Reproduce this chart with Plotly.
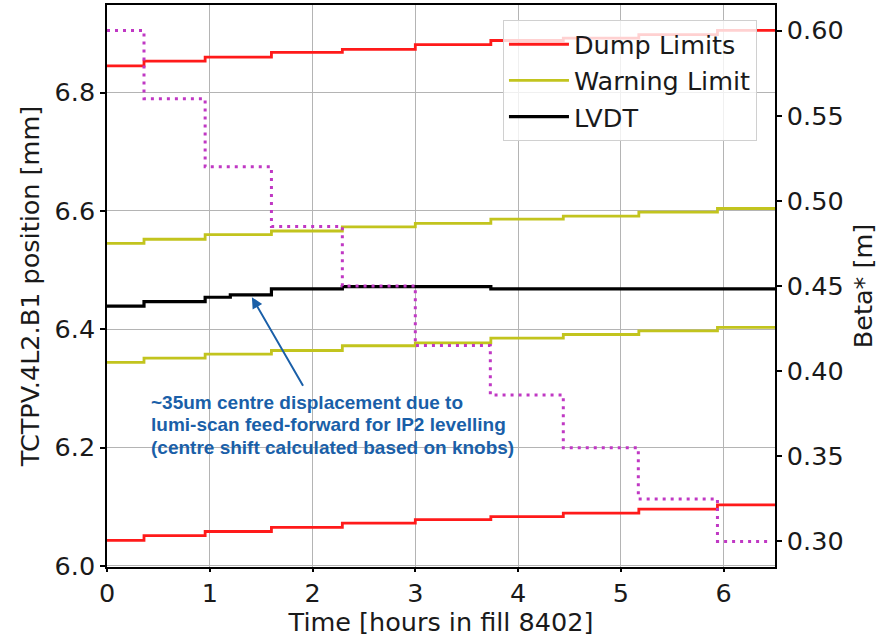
import plotly.graph_objects as go

# ---- data ----
step_hours = [0, 0.36, 0.955, 1.6, 2.29, 3.0, 3.735, 4.44, 5.175, 5.94, 6.5]
dump_upper = [6.845, 6.853, 6.860, 6.868, 6.873, 6.881, 6.888, 6.892, 6.898, 6.905, 6.905]
dump_lower = [6.043, 6.051, 6.058, 6.065, 6.072, 6.078, 6.083, 6.089, 6.096, 6.103, 6.103]
warn_upper = [6.545, 6.552, 6.560, 6.566, 6.573, 6.579, 6.586, 6.591, 6.598, 6.604, 6.604]
warn_lower = [6.344, 6.351, 6.358, 6.364, 6.372, 6.377, 6.385, 6.391, 6.397, 6.403, 6.403]

lvdt_hours = [0, 0.36, 0.955, 1.2, 1.6, 2.29, 3.735, 6.5]
lvdt_pos = [6.439, 6.4465, 6.454, 6.458, 6.468, 6.4718, 6.468, 6.468]

beta_hours = [0, 0.36, 0.955, 1.6, 2.29, 3.0, 3.73, 4.44, 5.17, 5.94, 6.46]
beta_star = [0.60, 0.56, 0.52, 0.485, 0.45, 0.415, 0.386, 0.355, 0.325, 0.30, 0.30]

x_ticks = [0, 1, 2, 3, 4, 5, 6]
y_ticks = [6.0, 6.2, 6.4, 6.6, 6.8]
y2_ticks = [0.30, 0.35, 0.40, 0.45, 0.50, 0.55, 0.60]

note_lines = [
    "~35um centre displacement due to",
    "lumi-scan feed-forward for IP2 levelling",
    "(centre shift calculated based on knobs)",
]
note_y = [6.2753, 6.2382, 6.1998]

RED = "#ff1a1a"
YEL = "#c2c41e"
BLK = "#000000"
MAG = "#c038c4"
BLUE = "#1a5fa8"
FONT = "DejaVu Sans"
FS = 25.5

fig = go.Figure()

fig.add_trace(go.Scatter(x=step_hours, y=dump_upper, mode="lines", line=dict(color=RED, width=2.8, shape="hv"),
                         name="Dump Limits", legendgroup="dump"))
fig.add_trace(go.Scatter(x=step_hours, y=dump_lower, mode="lines", line=dict(color=RED, width=2.8, shape="hv"),
                         name="Dump Limits", legendgroup="dump", showlegend=False))
fig.add_trace(go.Scatter(x=step_hours, y=warn_upper, mode="lines", line=dict(color=YEL, width=2.8, shape="hv"),
                         name="Warning Limit", legendgroup="warn"))
fig.add_trace(go.Scatter(x=step_hours, y=warn_lower, mode="lines", line=dict(color=YEL, width=2.8, shape="hv"),
                         name="Warning Limit", legendgroup="warn", showlegend=False))
fig.add_trace(go.Scatter(x=lvdt_hours, y=lvdt_pos, mode="lines", line=dict(color=BLK, width=3.2, shape="hv"),
                         name="LVDT", legendgroup="lvdt"))
fig.add_trace(go.Scatter(x=beta_hours, y=beta_star, mode="lines", yaxis="y2",
                         line=dict(color=MAG, width=3, shape="hv", dash="3px,5px"),
                         name="Beta*", showlegend=False))

for txt, yy in zip(note_lines, note_y):
    fig.add_annotation(x=0.41, y=yy, xref="x", yref="y", text="<b>%s</b>" % txt, showarrow=False,
                       xanchor="left", yanchor="middle",
                       font=dict(family="Liberation Sans", size=19, color=BLUE))

fig.add_annotation(x=1.41, y=6.454, ax=1.916, ay=6.302, xref="x", yref="y", axref="x", ayref="y",
                   text="", showarrow=True, arrowhead=2, arrowsize=1.1, arrowwidth=2, arrowcolor=BLUE)

axis_common = dict(showline=True, linecolor="black", linewidth=1.5, ticks="outside",
                   tickwidth=1.5, tickcolor="black", zeroline=False, automargin=False,
                   tickfont=dict(family=FONT, size=FS, color="#1a1a1a"))

fig.update_layout(
    width=887, height=637,
    margin=dict(l=107, r=112, t=5, b=70),
    paper_bgcolor="white", plot_bgcolor="white",
    font=dict(family=FONT, size=FS, color="#1a1a1a"),
    xaxis=dict(range=[0, 6.5], tickvals=x_ticks, showgrid=True, gridcolor="#b4b4b4", gridwidth=1, mirror=True,
               ticklen=3,
               title=dict(text="Time [hours in fill 8402]", font=dict(family=FONT, size=FS), standoff=8),
               **axis_common),
    yaxis=dict(range=[5.998, 6.948], tickvals=y_ticks, tickformat=".1f", showgrid=True, gridcolor="#b4b4b4",
               gridwidth=1, ticklen=5,
               title=dict(text="TCTPV.4L2.B1 position [mm]", font=dict(family=FONT, size=FS), standoff=8),
               **axis_common),
    yaxis2=dict(range=[0.285, 0.615], tickvals=y2_ticks, tickformat=".2f", overlaying="y", side="right",
                showgrid=False, ticklen=5,
                title=dict(text="Beta* [m]", font=dict(family=FONT, size=FS), standoff=12),
                **axis_common),
    legend=dict(x=0.973, y=0.973, xanchor="right", yanchor="top", bgcolor="rgba(255,255,255,0.8)",
                bordercolor="#d0d0d0", borderwidth=1, font=dict(family=FONT, size=FS, color="#1a1a1a"),
                tracegroupgap=0, traceorder="grouped", itemwidth=60),
    showlegend=True,
)

fig.write_html("out.html", config={"displayModeBar": False},
               post_script="document.body.style.margin='0px';")
